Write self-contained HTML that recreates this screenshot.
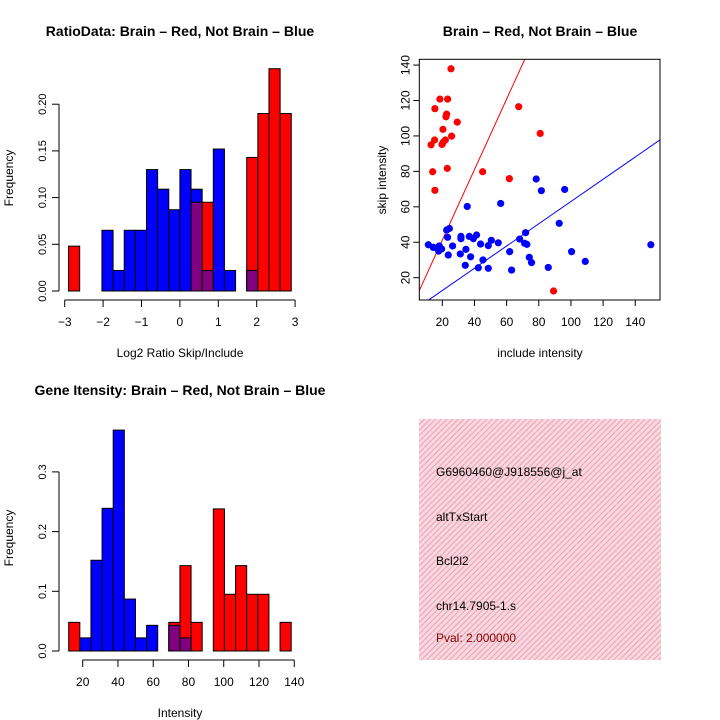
<!DOCTYPE html>
<html><head><meta charset="utf-8"><style>
html,body{margin:0;padding:0;background:#fff}
svg{display:block;font-family:"Liberation Sans",sans-serif}
</style></head><body>
<svg id="s" width="720" height="720" viewBox="0 0 720 720" xmlns="http://www.w3.org/2000/svg">
<defs>
<pattern id="hatch" width="4" height="4" patternUnits="userSpaceOnUse" patternTransform="rotate(45)">
<rect width="4" height="4" fill="#f8d8e0"/><line x1="0" y1="0" x2="0" y2="4" stroke="#eea0b4" stroke-width="2"/>
</pattern>
</defs>
</svg>
<script>
// ---- data: top histogram (log2 ratio) ----
const ratioBinStart = -2.9;
const ratioBinWidth = 0.29;
const ratioRed = [0.048,0,0,0,0,0,0,0,0,0,0,0.095,0.095,0,0,0,0.143,0.19,0.238,0.19];
const ratioBlue = [0,0,0,0.065,0.022,0.065,0.065,0.130,0.109,0.087,0.130,0.109,0.022,0.152,0.022,0,0.022,0,0,0];
const ratioXTicks = [-3,-2,-1,0,1,2,3];
const ratioYTicks = [0,0.05,0.10,0.15,0.20];
const ratioYLabels = ["0.00","0.05","0.10","0.15","0.20"];
// ---- data: scatter ----
const redInclude = [25.4,18.5,23.3,15.4,67.5,22.7,22.3,29.3,20.4,80.9,25.8,15.2,21.9,20.6,19.8,13,23.1,14,45.1,61.7,15.4,89.2];
const redSkip = [137.9,120.8,120.8,115.4,116.5,112.3,110.8,107.8,103.7,101.4,99.9,97.7,97.7,96.5,95.2,95,81.7,79.8,79.8,75.9,69.3,12.5];
const blueInclude = [11.3,14.4,16.9,18.1,17.7,19.6,22.7,24.4,23.3,23.7,26.4,31.6,31.6,31.2,35.5,34.7,34.3,36.8,37.6,39.3,41.3,42.4,43.8,45.3,48.6,48.6,50.5,54.8,56.3,61.9,63.1,68.1,71.8,71.2,72.6,74.1,75.5,78.4,81.6,85.9,92.7,96.1,100.4,108.9,149.7];
const blueSkip = [38.6,37.1,36.6,37.9,35,36.2,46.9,47.8,42.8,32.8,37.9,43.3,42,33.4,60.2,36,27,43.3,31.8,42,44.1,25.6,39,30,38.1,25.3,41.1,39.7,61.9,34.7,24.3,41.8,45.4,39.4,38.8,31.5,28.5,75.7,69.1,25.8,50.7,69.8,34.7,29.2,38.6];
const redFit = [1.4, 1.99];   // intercept, slope
const blueFit = [0.2, 0.628];
const scatTicks = [20,40,60,80,100,120,140];
// ---- data: bottom histogram (intensity) ----
const intBinStart = 12.06;
const intBinWidth = 6.31;
const intRed = [0.048,0,0,0,0,0,0,0,0,0.048,0.143,0.048,0,0.238,0.095,0.143,0.095,0.095,0,0.048];
const intBlue = [0,0.022,0.152,0.239,0.370,0.087,0.022,0.043,0,0.043,0.022,0,0,0,0,0,0,0,0,0];
const intXTicks = [20,40,60,80,100,120,140];
const intYTicks = [0,0.1,0.2,0.3];
const intYLabels = ["0.0","0.1","0.2","0.3"];
// ---- info text ----
const infoLines = ["G6960460@J918556@j_at","altTxStart","Bcl2l2","chr14.7905-1.s","Pval: 2.000000"];

const S = document.getElementById('s');
const NS = 'http://www.w3.org/2000/svg';
function mk(tag, attrs, parent){const e=document.createElementNS(NS,tag);for(const k in attrs)e.setAttribute(k,attrs[k]);(parent||S).appendChild(e);return e;}
function txt(x,y,s,size,opts,parent){const a=Object.assign({x:x,y:y,'font-size':size,'text-anchor':'middle',fill:'#000'},opts||{});const e=mk('text',a,parent);e.textContent=s;return e;}

function histogram(cfg){
  const g=mk('g',{});
  
  
  const X=v=>cfg.x0+(v-cfg.xv0)*cfg.xs, Y=v=>cfg.y0-v*cfg.ys;
  for(let i=0;i<cfg.red.length;i++){
    const a=cfg.start+i*cfg.bw, b=a+cfg.bw;
    const r=cfg.red[i], bl=cfg.blue[i];
    if(bl>0){const e=mk('rect',{x:X(a),y:Y(bl),width:X(b)-X(a),height:Y(0)-Y(bl),fill:'#0000ff',stroke:'#000','stroke-width':1},g);
      
      }
    if(r>0){const e=mk('rect',{x:X(a),y:Y(r),width:X(b)-X(a),height:Y(0)-Y(r),fill:'#ff0000',stroke:'#000','stroke-width':1},g);
      
      }
    if(r>0&&bl>0){const m=Math.min(r,bl);const e=mk('rect',{x:X(a),y:Y(m),width:X(b)-X(a),height:Y(0)-Y(m),fill:'#800080',stroke:'#000','stroke-width':1},g);
      
      }
  }
  // x axis
  const xa=mk('g',{},g);
  
  
  const t=cfg.xticks;
  mk('line',{x1:X(t[0]),x2:X(t[t.length-1]),y1:cfg.xaxisY,y2:cfg.xaxisY,stroke:'#000'},xa);
  t.forEach(v=>{mk('line',{x1:X(v),x2:X(v),y1:cfg.xaxisY,y2:cfg.xaxisY+7,stroke:'#000'},xa);
    txt(X(v),cfg.xaxisY+26,String(v).replace('-','\u2212'),12,{},xa);});
  // y axis
  const ya=mk('g',{},g);
  
  
  const yt=cfg.yticks;
  mk('line',{x1:cfg.yaxisX,x2:cfg.yaxisX,y1:Y(yt[0]),y2:Y(yt[yt.length-1]),stroke:'#000'},ya);
  yt.forEach((v,i)=>{mk('line',{x1:cfg.yaxisX,x2:cfg.yaxisX-7,y1:Y(v),y2:Y(v),stroke:'#000'},ya);
    txt(0,0,cfg.ylabels[i],11,{transform:`translate(${cfg.yaxisX-13},${Y(v)}) rotate(-90)`},ya);});
}

histogram({name:'ratio-histogram',x0:64.7,xv0:-3,xs:38.4,y0:291,ys:934,start:ratioBinStart,bw:ratioBinWidth,
  red:ratioRed,blue:ratioBlue,xticks:ratioXTicks,yticks:ratioYTicks,ylabels:ratioYLabels,xaxisY:300,yaxisX:59});
histogram({name:'intensity-histogram',x0:82.7,xv0:20,xs:1.763,y0:651,ys:597,start:intBinStart,bw:intBinWidth,
  red:intRed,blue:intBlue,xticks:intXTicks,yticks:intYTicks,ylabels:intYLabels,xaxisY:660,yaxisX:59});

// scatter
(function(){
  const g=mk('g',{});
  
  
  const L=419.3,R=660,T=59.3,B=300;
  const X=v=>442.3+(v-20)*1.608, Y=v=>277.7-(v-20)*1.772;
  const cp=mk('clipPath',{id:'cp'},g);mk('rect',{x:L,y:T,width:R-L,height:B-T},cp);
  const lg=mk('g',{'clip-path':'url(#cp)'},g);
  [[redFit,'#ff0000','red-fit-line'],[blueFit,'#0000ff','blue-fit-line']].forEach(f=>{
    const x1=0,x2=170;
    const e=mk('line',{x1:X(x1),y1:Y(f[0][0]+f[0][1]*x1),x2:X(x2),y2:Y(f[0][0]+f[0][1]*x2),stroke:f[1],'stroke-width':1},lg);
    
    
  });
  redInclude.forEach((v,i)=>{const e=mk('circle',{cx:X(v),cy:Y(redSkip[i]),r:3.6,fill:'#ff0000'},lg);
    
    });
  blueInclude.forEach((v,i)=>{const e=mk('circle',{cx:X(v),cy:Y(blueSkip[i]),r:3.6,fill:'#0000ff'},lg);
    
    });
  const fr=mk('rect',{x:L,y:T,width:R-L,height:B-T,fill:'none',stroke:'#000'},g);
  
  
  scatTicks.forEach(v=>{
    mk('line',{x1:X(v),x2:X(v),y1:B,y2:B+6,stroke:'#000'},g);
    txt(X(v),B+26,String(v),12,{},g);
    mk('line',{x1:L,x2:L-6,y1:Y(v),y2:Y(v),stroke:'#000'},g);
    txt(0,0,String(v),12,{transform:`translate(${L-10},${Y(v)}) rotate(-90)`},g);
  });
})();

// labels
let e;
e=txt(180,36,'RatioData: Brain \u2013 Red, Not Brain \u2013 Blue',14,{'font-weight':'bold'});


e=txt(180,357,'Log2 Ratio Skip/Include',12);


e=txt(0,0,'Frequency',12,{transform:'translate(13,178) rotate(-90)'});


e=txt(540,36,'Brain \u2013 Red, Not Brain \u2013 Blue',14,{'font-weight':'bold'});


e=txt(540,357,'include intensity',12);


e=txt(0,0,'skip intensity',12,{transform:'translate(386,180) rotate(-90)'});


e=txt(180,395,'Gene Itensity: Brain \u2013 Red, Not Brain \u2013 Blue',14,{'font-weight':'bold'});


e=txt(180,717,'Intensity',12);


e=txt(0,0,'Frequency',12,{transform:'translate(13,538) rotate(-90)'});



// info box
e=mk('rect',{x:419,y:419,width:242,height:241,fill:'url(#hatch)'});


const infoY=[476,521,565,610,642];
infoLines.forEach((s,i)=>{const t=txt(436,infoY[i],s,12,{'text-anchor':'start',fill:i===4?'#8b0000':'#000'});
  
  });
</script>
</body></html>
